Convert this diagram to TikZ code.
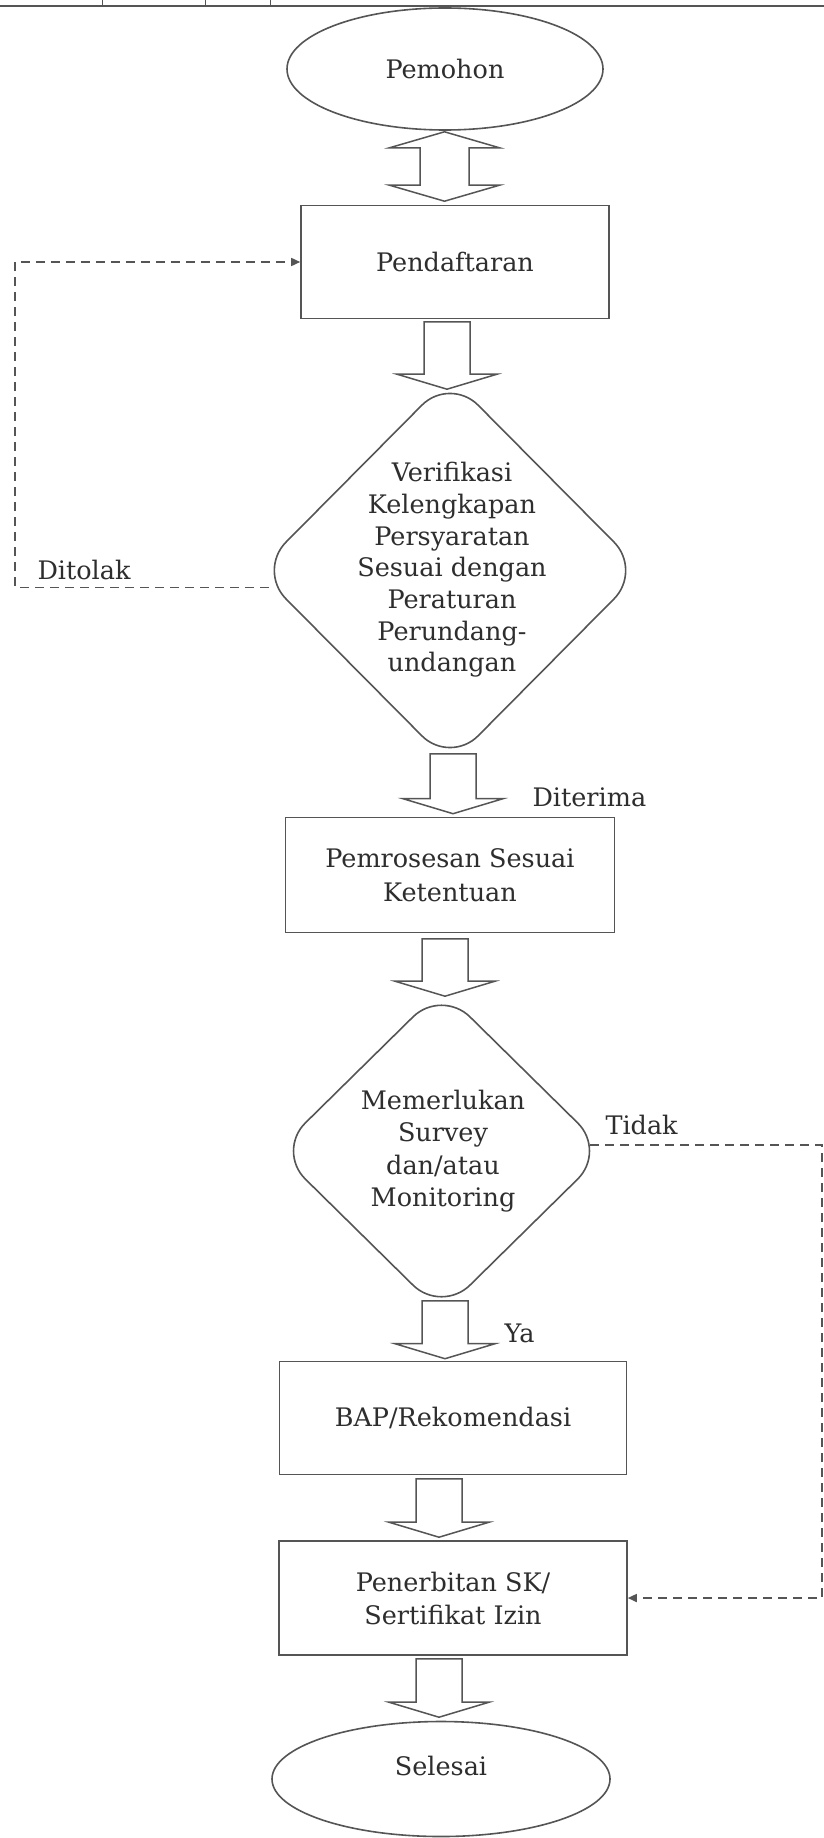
\documentclass[tikz,border=0pt]{standalone}
\usepackage{fontspec}
\setmainfont{DejaVu Serif}
\usetikzlibrary{shapes.geometric,arrows.meta,calc}
\definecolor{ln}{HTML}{555555}
\definecolor{tx}{HTML}{2E2E2E}
\newcommand\blkdown[2]{%
  \draw[blk] let \p1=#1, \p2=#2 in
    (\x1-23pt,\y1) -- (\x1+23pt,\y1) -- (\x1+23pt,\y2+15pt) -- (\x1+50pt,\y2+15pt)
    -- (\x1,\y2) -- (\x1-50pt,\y2+15pt) -- (\x1-23pt,\y2+15pt) -- cycle;}
\begin{document}
\begin{tikzpicture}[x=1pt,y=-1pt,
  every node/.style={text=tx},
  txt/.style={font=\fontsize{25.5}{32}\selectfont, align=center},
  boxnode/.style={draw=ln, line width=1.6pt, rectangle, inner sep=0pt},
  termnode/.style={draw=ln, line width=1.6pt, ellipse, inner sep=0pt},
  decnode/.style={draw=ln, line width=1.6pt, diamond, rounded corners=40pt, inner sep=0pt},
  blk/.style={draw=ln, line width=1.5pt, fill=white, line join=miter},
  dashln/.style={draw=ln, line width=1.6pt, dash pattern=on 9pt off 6pt, -{Triangle[length=9pt,width=8pt]}},
  lbl/.style={font=\fontsize{25.5}{30}\selectfont, anchor=west}
]
\fill[white] (0,0) rectangle (824,1838);
\useasboundingbox (0,0) rectangle (824,1838);

% top border remnants
\draw[ln, line width=2.2pt] (0,6) -- (824,6);
\draw[ln, line width=1pt] (102,0) -- (102,6) (205,0) -- (205,6) (270,0) -- (270,6);

% nodes
\node[termnode, minimum width=316pt, minimum height=122pt, txt] (pem) at (445,69) {Pemohon};
\node[boxnode, minimum width=308pt, minimum height=113pt, txt] (pend) at (455,262) {Pendaftaran};
\node[decnode, minimum width=385pt, minimum height=388pt] (ver) at (450,570.5) {};
\node[txt, font=\fontsize{25.5}{31.7}\selectfont] (vert) at (452,570) {Verifikasi\\Kelengkapan\\Persyaratan\\Sesuai dengan\\Peraturan\\Perundang-\\undangan};
\node[boxnode, minimum width=329pt, minimum height=115pt, txt, font=\fontsize{25.5}{34}\selectfont] (pros) at (450,875) {Pemrosesan Sesuai\\Ketentuan};
\node[decnode, minimum width=330pt, minimum height=325pt] (mem) at (441.5,1151) {};
\node[txt, font=\fontsize{25.5}{32.3}\selectfont] (memt) at (443,1151) {Memerlukan\\Survey\\dan/atau\\Monitoring};
\node[boxnode, minimum width=347pt, minimum height=113pt, txt] (bap) at (453,1418) {BAP/Rekomendasi};
\node[boxnode, minimum width=348pt, minimum height=114pt, txt, font=\fontsize{25.5}{33}\selectfont] (pen) at (453,1598) {Penerbitan SK/\\Sertifikat Izin};
\node[termnode, minimum width=338pt, minimum height=115pt] (sel) at (441,1779) {};
\node[txt] (selt) at (441,1766) {Selesai};

% labels
\node[lbl] (ditolak) at (34,570) {Ditolak};
\node[lbl] (diterima) at (529,797) {Diterima};
\node[lbl] (tidak) at (602,1125) {Tidak};
\node[lbl] (ya) at (501,1333) {Ya};

% double block arrow Pemohon <-> Pendaftaran
\draw[blk] let \p1=($(pem.south)+(-0.5,1)$), \p2=($(pend.north)+(0,-3.5)$) in
  (\x1,\y1) -- (\x1+55pt,\y1-16pt) -- (\x1+24.5pt,\y1-16pt) -- (\x1+24.5pt,\y2+16pt)
  -- (\x1+55pt,\y2+16pt) -- (\x1,\y2) -- (\x1-55pt,\y2+16pt) -- (\x1-24.5pt,\y2+16pt)
  -- (\x1-24.5pt,\y1-16pt) -- (\x1-55pt,\y1-16pt) -- cycle;

% block arrows
\blkdown{($(pend.south)+(-8,2.5)$)}{($(ver.north)+(0,13.5)$)}
\blkdown{($(ver.south)+(3,-11.5)$)}{($(pros.north)+(0,-3)$)}
\blkdown{($(pros.south)+(-5,5.5)$)}{($(mem.north)+(0,8.5)$)}
\blkdown{($(mem.south)+(3.5,-13.5)$)}{($(bap.north)+(0,-2)$)}
\blkdown{($(bap.south)+(-14,3.5)$)}{($(pen.north)+(0,-3)$)}
\blkdown{($(pen.south)+(-14,3)$)}{($(sel.north)+(0,-3.5)$)}

% dashed feedback connectors
\coordinate (lx) at (15,265);
\coordinate (dt) at ($(ver.west)+(12,17)$);
\draw[dashln] (dt) -- (dt -| lx) -- (lx |- pend.west) -- (pend.west);
\coordinate (rx) at (822,1145);
\coordinate (tt) at ($(mem.east)+(-17,-6)$);
\draw[dashln] (tt) -- (tt -| rx) -- (rx |- pen.east) -- (pen.east);
\end{tikzpicture}
\end{document}
